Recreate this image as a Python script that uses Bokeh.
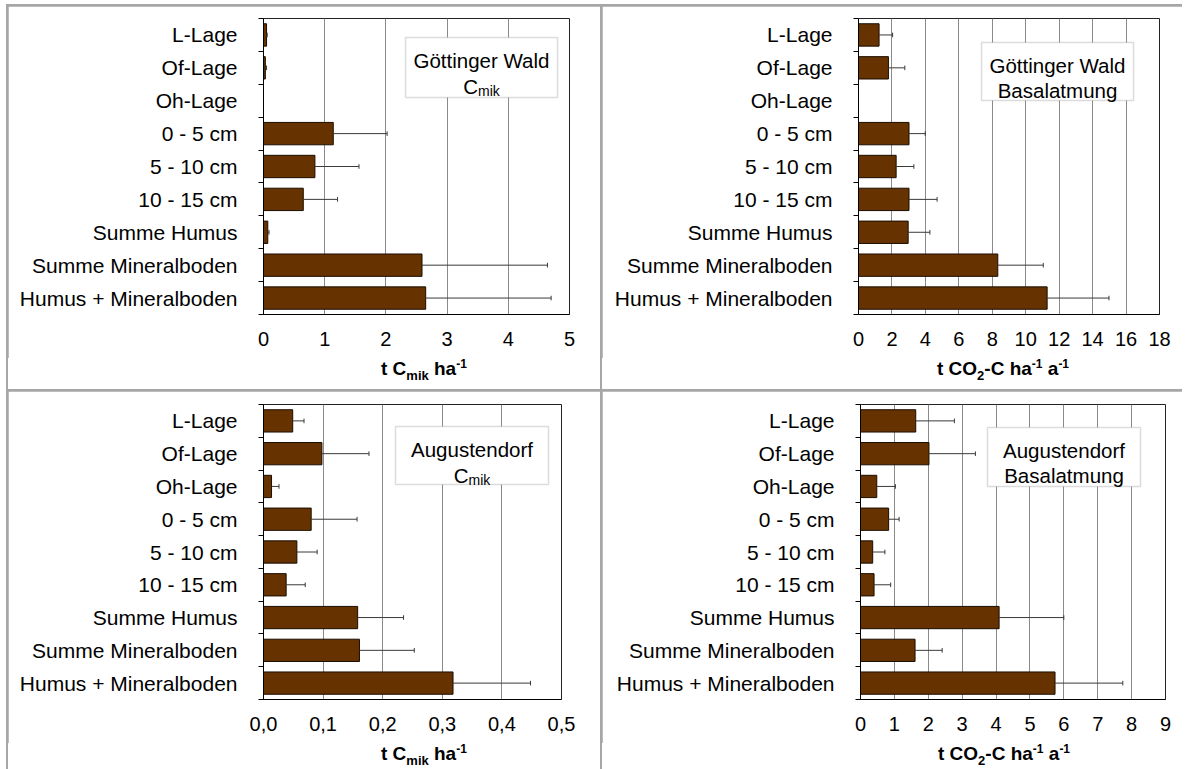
from bokeh.plotting import figure
from bokeh.models import (Range1d, FixedTicker, CustomJSTickFormatter, BoxAnnotation,
                          Label, GridBox, Div, Column)
from bokeh.embed import file_html
from bokeh.resources import INLINE

NaN = float("nan")

categories = ["L-Lage", "Of-Lage", "Oh-Lage", "0 - 5 cm", "5 - 10 cm", "10 - 15 cm",
              "Summe Humus", "Summe Mineralboden", "Humus + Mineralboden"]

# Göttinger Wald, C_mik (t C_mik / ha)
gw_cmik = [0.05, 0.03, 0.0, 1.14, 0.84, 0.65, 0.07, 2.59, 2.65]
gw_cmik_sd = [0.01, 0.02, NaN, 0.88, 0.72, 0.56, 0.02, 2.05, 2.05]
# Göttinger Wald, Basalatmung (t CO2-C / ha / a)
gw_basal = [1.23, 1.79, 0.0, 3.02, 2.25, 3.02, 2.97, 8.33, 11.28]
gw_basal_sd = [0.81, 0.98, NaN, 0.97, 1.06, 1.68, 1.30, 2.72, 3.70]
# Augustendorf, C_mik
au_cmik = [0.049, 0.098, 0.0135, 0.080, 0.056, 0.038, 0.158, 0.161, 0.318]
au_cmik_sd = [0.019, 0.079, 0.0125, 0.077, 0.034, 0.032, 0.077, 0.092, 0.130]
# Augustendorf, Basalatmung
au_basal = [1.63, 2.02, 0.48, 0.83, 0.36, 0.40, 4.09, 1.61, 5.74]
au_basal_sd = [1.14, 1.37, 0.55, 0.31, 0.36, 0.49, 1.91, 0.80, 2.00]

ticks_gw_cmik = [0, 1, 2, 3, 4, 5]
ticks_gw_basal = [0, 2, 4, 6, 8, 10, 12, 14, 16, 18]
ticks_au_cmik = [0.0, 0.1, 0.2, 0.3, 0.4, 0.5]
ticks_au_basal = [0, 1, 2, 3, 4, 5, 6, 7, 8, 9]

title_cmik = "t C<sub>mik</sub> ha<sup>-1</sup>"
title_basal = "t CO<sub>2</sub>-C ha<sup>-1</sup> a<sup>-1</sup>"

FONT = "Liberation Sans"
BAR = "#663300"

# Arial-compatible advance widths (per 1000 em), regular
REG = {"C": 722, "m": 833, "i": 222, "k": 500}


def tw(s, size):
    return sum(REG.get(c, 556) for c in s) * size / 1000.0


def panel(vals, sds, ticks, comma, line1, line2_parts, title_html,
          fl, fw, fr, ft, fh, box, title_x, div_h):
    xmax = ticks[-1]
    fb = 44
    p = figure(frame_width=fw, frame_height=fh, min_border_left=fl, min_border_right=fr,
               min_border_top=ft, min_border_bottom=fb,
               x_range=Range1d(0, xmax), y_range=Range1d(9.5, 0.5),
               output_backend="svg", toolbar_location=None)
    p.background_fill_color = "white"
    p.border_fill_color = "white"
    p.outline_line_color = "#222222"
    p.outline_line_width = 1

    X = lambda px: px * xmax / fw
    Y = lambda py: 0.5 + py * 9.0 / fh

    ys = list(range(1, len(categories) + 1))
    p.hbar(y=ys, left=0, right=vals, height=0.68, fill_color=BAR, line_color="#1a0d00",
           line_width=1)
    ends = [v + s for v, s in zip(vals, sds)]
    p.segment(x0=vals, y0=ys, x1=ends, y1=ys, line_color="#3a3a3a", line_width=1)
    p.segment(x0=ends, y0=[y - 0.07 for y in ys], x1=ends, y1=[y + 0.07 for y in ys],
              line_color="#3a3a3a", line_width=1)

    # x axis
    p.xaxis.ticker = FixedTicker(ticks=ticks)
    if comma:
        p.xaxis.formatter = CustomJSTickFormatter(code="return tick.toFixed(1).replace('.', ',');")
    p.xaxis.major_tick_out = 0
    p.xaxis.major_tick_in = 0
    p.xaxis.minor_tick_line_color = None
    p.xaxis.axis_line_color = "black"
    p.xaxis.major_label_text_font = FONT
    p.xaxis.major_label_text_font_size = "20px"
    p.xaxis.major_label_text_color = "black"
    p.xaxis.major_label_standoff = 17

    # y axis: labels at category centres, small ticks between categories
    p.yaxis.ticker = FixedTicker(ticks=ys, minor_ticks=[y - 0.5 for y in ys] + [9.5])
    p.yaxis.major_label_overrides = {y: c for y, c in zip(ys, categories)}
    p.yaxis.major_tick_out = 0
    p.yaxis.major_tick_in = 0
    p.yaxis.minor_tick_out = 5
    p.yaxis.minor_tick_in = 0
    p.yaxis.minor_tick_line_color = "black"
    p.yaxis.axis_line_color = "black"
    p.yaxis.major_label_text_font = FONT
    p.yaxis.major_label_text_font_size = "21px"
    p.yaxis.major_label_text_color = "black"
    p.yaxis.major_label_standoff = 21

    p.ygrid.grid_line_color = None
    p.xgrid.grid_line_color = "#8a8a8a"
    p.xgrid.grid_line_width = 1

    # text box inside the plot area
    bx0, by0, bx1, by1 = box
    p.add_layout(BoxAnnotation(left=X(bx0), right=X(bx1), top=Y(by0), bottom=Y(by1),
                               fill_color="white", fill_alpha=1.0,
                               line_color="#8c8c8c", line_width=1.5))
    cx = (bx0 + bx1) / 2.0
    p.add_layout(Label(x=X(cx), y=Y(by0 + 23), text=line1, text_align="center",
                       text_baseline="alphabetic", text_font=FONT,
                       text_font_size="20.5px", text_color="black"))
    if len(line2_parts) == 1:
        t, s, d = line2_parts[0]
        p.add_layout(Label(x=X(cx), y=Y(by0 + 48), text=t, text_align="center",
                           text_baseline="alphabetic", text_font=FONT,
                           text_font_size=f"{s}px", text_color="black"))
    else:
        total = sum(tw(t, s) for t, s, d in line2_parts)
        x = cx - total / 2.0
        for t, s, d in line2_parts:
            p.add_layout(Label(x=X(x), y=Y(by0 + 49 + d), text=t, text_align="left",
                               text_baseline="alphabetic", text_font=FONT,
                               text_font_size=f"{s}px", text_color="black"))
            x += tw(t, s)

    width = fl + fw + fr
    html = ('<div style="padding-left:%dpx;padding-top:0px;white-space:nowrap;'
            'font-family:\'Liberation Sans\',Arial,sans-serif;font-size:19px;'
            'font-weight:bold;line-height:22px;color:#000;">%s</div>'
            % (title_x, title_html.replace("<sub>", '<sub style="font-size:13px;line-height:0">')
               .replace("<sup>", '<sup style="font-size:12px;line-height:0">')))
    d = Div(text=html, width=width, height=div_h, margin=0,
            styles={"background-color": "white"})
    return Column(children=[p, d], spacing=0)


cmik_line2 = [("C", 20.5, 0), ("mik", 14, 4)]
basal_line2 = [("Basalatmung", 20.5, 0)]

c1 = panel(gw_cmik, gw_cmik_sd, ticks_gw_cmik, False, "Göttinger Wald", cmik_line2,
           title_cmik, 255, 306, 31, 12, 296, (142, 19, 294, 79), 373, 31)
c2 = panel(gw_basal, gw_basal_sd, ticks_gw_basal, False, "Göttinger Wald", basal_line2,
           title_basal, 256, 301, 23, 12, 296, (123, 24, 275, 82), 335, 31)
c3 = panel(au_cmik, au_cmik_sd, ticks_au_cmik, True, "Augustendorf", cmik_line2,
           title_cmik, 255, 298, 39, 13, 295, (132, 22, 285, 80), 373, 26)
c4 = panel(au_basal, au_basal_sd, ticks_au_basal, False, "Augustendorf", basal_line2,
           title_basal, 258, 305, 17, 13, 295, (127, 23, 280, 82), 336, 26)

grid = GridBox(children=[(c1, 0, 0), (c2, 0, 1), (c3, 1, 0), (c4, 1, 1)], spacing=2,
               styles={"background-color": "#a6a6a6", "padding": "2px 0px 0px 2px",
                       "margin": "4px 0px 0px 6px"})

open("out.html", "w").write(file_html(grid, INLINE))
